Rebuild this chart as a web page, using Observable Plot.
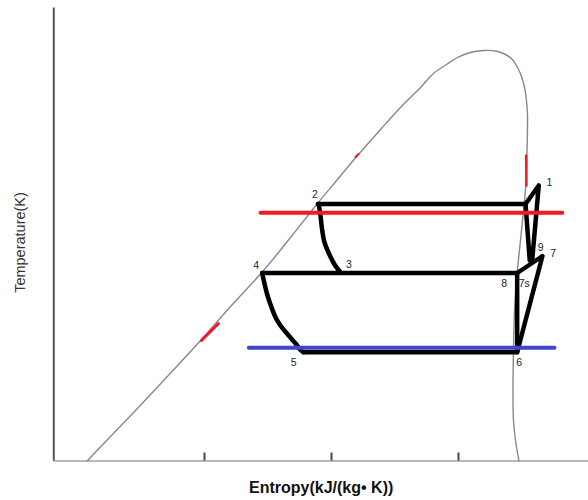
<!DOCTYPE html>
<html>
<head>
<meta charset="utf-8">
<script src="https://cdn.jsdelivr.net/npm/d3@7"></script>
<script src="https://cdn.jsdelivr.net/npm/@observablehq/plot@0.6"></script>
<style>
  html, body { margin: 0; padding: 0; background: #fff; }
</style>
</head>
<body>
<div id="chart"></div>
<script>
// Saturation dome (entropy, temperature)
const domeS = [0.076,0.260,0.457,0.693,0.969,1.205,1.465,1.677,1.890,2.047,2.205,2.386,2.543,2.701,2.803,2.906,2.992,3.094,3.197,3.291,3.354,3.417,3.465,3.496,3.520,3.535,3.543,3.543,3.539,3.531,3.516,3.488,3.462,3.441,3.433,3.429,3.433,3.449,3.476];
const domeT = [200,224.5,250.5,282.5,320.5,354.5,390.5,423.5,457.5,481.5,505.5,531.5,553.5,573.5,587.5,596.5,603.5,608.5,610.5,610,607.5,602.5,593.5,584.5,573.5,560.5,547.5,530.5,507.5,477.5,455.5,420.5,388,350.5,310.5,270.5,240.5,220.5,200];

// Cycle: high-pressure loop 2 -> a -> 1 -> 9 -> a
const topS = [1.894,3.528,3.632,3.580,3.561,3.528];
const topT = [457,457,475.5,400.5,400.5,457];
// Process 2 -> 3 (curved)
const c23S = [1.894,1.898,1.913,1.925,1.945,1.980,2.024,2.071];
const c23T = [457,456.5,445.5,432.5,418.5,407.5,396.5,388.5];
// Low loop 5 -> 6 -> 8 -> 4
const lowS = [1.780,3.462,3.462,1.454];
const lowT = [308.8,308.8,388,388];
// 8 -> 7s -> 7 -> 6
const c87S = [3.462,3.551,3.661,3.462];
const c87T = [388,395.5,405,308.8];
// Process 4 -> 5 (curved)
const c45S = [1.454,1.476,1.496,1.528,1.559,1.598,1.651,1.693,1.730,1.756,1.780];
const c45T = [388,375.5,365.5,353.5,343.8,335.5,327.2,321,315.5,311,308.8];

// Isotherm lines
const redS = [1.441,3.817], redT = [448.2,448.2];
const blueS = [1.349,3.756], blueT = [313.2,313.2];
// Small red marks on the dome
const markS1 = [3.533,3.535], markT1 = [505.5,475.5];
const markS2 = [2.189,2.213], markT2 = [504,507];
const markS3 = [0.976,1.110], markT3 = [320.5,337.5];

// State labels
const labelText = ["1","2","3","4","5","6","7","7s","8","9"];
const labelS = [3.715,1.870,2.138,1.406,1.703,3.478,3.746,3.518,3.360,3.648];
const labelT = [478.8,466.8,396.8,395.8,298.2,298.2,407.2,377.7,377.7,413.5];

const xTicks = [1,2,3];
const xLabel = "Entropy(kJ/(kg\u2022 K))";
const yLabel = "Temperature(K)";

const pts = (S, T) => S.map((s, i) => ({s, T: T[i]}));
const labels = labelText.map((t, i) => ({t, s: labelS[i], T: labelT[i]}));

const xDomain = [-0.18661, 4.02363];
const yDomain = [200, 653];

const black = {x: "s", y: "T", stroke: "#000", strokeWidth: 4.5, strokeLinejoin: "round", strokeLinecap: "round"};

const chart = Plot.plot({
  width: 588,
  height: 500,
  marginLeft: 53.3,
  marginRight: 0,
  marginTop: 7.5,
  marginBottom: 39.5,
  x: {domain: xDomain, axis: null},
  y: {domain: yDomain, axis: null},
  style: {fontFamily: "'Liberation Sans', Arial, sans-serif", background: "#fff", overflow: "visible"},
  marks: [
    // axes
    Plot.ruleY([yDomain[0]], {stroke: "#a0a0a0", strokeWidth: 1.5}),
    Plot.ruleX([xDomain[0]], {y1: yDomain[0], y2: yDomain[1], stroke: "#555", strokeWidth: 2}),
    Plot.ruleX(xTicks, {y1: yDomain[0], y2: yDomain[0] + 8, stroke: "#444", strokeWidth: 2}),
    // dome
    Plot.line(pts(domeS, domeT), {x: "s", y: "T", stroke: "#888", strokeWidth: 1.4, curve: "catmull-rom"}),
    // cycle
    Plot.line(pts(topS, topT), black),
    Plot.line(pts(c23S, c23T), {...black, curve: "catmull-rom"}),
    Plot.line(pts(lowS, lowT), black),
    Plot.line(pts(c87S, c87T), black),
    Plot.line(pts(c45S, c45T), {...black, curve: "catmull-rom"}),
    // isotherms
    Plot.line(pts(redS, redT), {x: "s", y: "T", stroke: "#ed1c24", strokeWidth: 4, strokeLinecap: "round"}),
    Plot.line(pts(blueS, blueT), {x: "s", y: "T", stroke: "#3f48cc", strokeWidth: 4, strokeLinecap: "round"}),
    // red marks
    Plot.line(pts(markS1, markT1), {x: "s", y: "T", stroke: "#ed1c24", strokeWidth: 2.5}),
    Plot.line(pts(markS2, markT2), {x: "s", y: "T", stroke: "#ed1c24", strokeWidth: 2}),
    Plot.line(pts(markS3, markT3), {x: "s", y: "T", stroke: "#ed1c24", strokeWidth: 3}),
    // state labels
    Plot.text(labels, {x: "s", y: "T", text: "t", fontSize: 10.5, fill: "#222"}),
    // axis titles
    Plot.text([xLabel], {frameAnchor: "bottom", textAnchor: "middle", lineAnchor: "middle", dy: 26.5, fontSize: 16, fontWeight: "bold", fill: "#111"}),
    Plot.text([yLabel], {frameAnchor: "left", textAnchor: "middle", lineAnchor: "middle", rotate: -90, dx: -33.8, dy: 8, fontSize: 14.5, fill: "#333"})
  ]
});
document.getElementById("chart").appendChild(chart);
</script>
</body>
</html>
